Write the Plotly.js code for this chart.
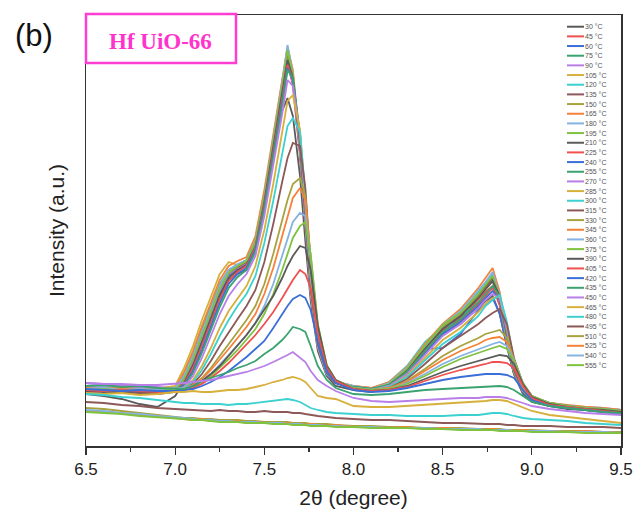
<!DOCTYPE html>
<html><head><meta charset="utf-8">
<script src="https://cdn.plot.ly/plotly-3.0.1.min.js"></script>
<style>html,body{margin:0;padding:0;background:#fff;} #chart{width:635px;height:518px;}</style>
</head><body><div id="chart"></div>
<script>
// 2-theta grid (degree)
const X = [6.5,6.6,6.7,6.8,6.9,7.0,7.05,7.1,7.15,7.2,7.25,7.3,7.35,7.4,7.45,7.5,7.55,7.6,7.63,7.66,7.7,7.73,7.76,7.8,7.85,7.9,8.0,8.1,8.2,8.3,8.4,8.5,8.6,8.7,8.74,8.78,8.82,8.86,8.9,8.95,9.0,9.1,9.2,9.3,9.4,9.5];
const TEMPS = [30,45,60,75,90,105,120,135,150,165,180,195,210,225,240,255,270,285,300,315,330,345,360,375,390,405,420,435,450,465,480,495,510,525,540,555];
const LABELS = TEMPS.map(t => t + ' °C');

// intensities (a.u.)
const I030 = [52,50,47,42,39,50, 64,84,106,128,150,166,172,176,196,240,292,335, 348,330,270,205,145,95,70,60, 56,54,60,72,92,112,122,138, 145,150,132,100,72,52,44, 40,37,36,34,33];
const I045 = [57,58,56,55,54,56, 68,88,110,133,155,171,178,182,200,244,298,352, 384,360,290,220,152,98,71,63, 59,56,61,74,95,116,128,146, 154,160,140,102,72,54,46, 41,39,37,36,34];
const I060 = [60,59,60,58,57,59, 66,82,104,128,152,170,176,180,198,242,296,355, 391,366,294,222,152,99,71,63, 58,56,60,72,97,98,112,136, 142,148,132,100,72,53,45, 41,39,38,36,35];
const I075 = [56,57,55,56,55,57, 72,93,117,140,162,176,181,184,203,247,300,358, 394,368,296,224,154,100,72,64, 59,57,62,76,98,120,134,152, 160,168,146,104,73,55,46, 42,40,38,37,36];
const I090 = [63,62,61,60,59,58, 66,84,108,132,155,172,178,183,201,246,299,354, 388,362,292,221,152,99,72,63, 58,57,61,75,97,119,132,150, 158,165,144,104,74,55,47, 43,40,39,38,36];
const I105 = [58,59,57,56,57,60, 78,100,126,150,172,184,181,184,204,248,302,360, 396,370,298,226,156,101,73,64, 60,58,63,77,99,121,136,154, 162,170,148,106,74,55,47, 42,40,39,37,36];
const I120 = [56,57,58,57,55,57, 70,91,115,139,161,175,181,186,206,251,306,363, 398,372,299,227,156,100,72,64, 59,58,64,80,104,119,124,154, 163,172,150,107,74,55,47, 42,40,38,37,36];
const I135 = [54,55,53,54,52,55, 68,89,112,136,158,173,179,184,204,248,302,358, 394,369,296,224,154,100,72,63, 58,56,61,76,98,118,130,150, 159,168,147,105,73,54,46, 41,39,37,36,34];
const I150 = [57,56,57,55,56,57, 69,90,114,137,160,174,180,185,205,250,304,360, 396,370,297,225,155,100,72,64, 59,57,62,77,99,119,131,149, 157,165,146,106,74,55,46, 42,40,38,37,35];
const I165 = [58,58,57,56,56,58, 74,95,120,144,166,180,185,189,210,256,310,366, 399,376,304,232,160,104,74,65, 60,58,64,79,102,122,137,158, 168,178,154,110,77,57,48, 43,41,39,38,36];
const I180 = [58,60,58,57,56,58, 70,90,114,138,160,176,182,186,205,250,305,362, 401,372,298,225,155,100,72,64, 60,57,63,78,100,121,135,155, 164,174,150,108,75,55,47, 42,40,38,37,35];
const I195 = [55,56,55,54,55,56, 67,87,110,134,157,173,180,185,204,249,303,359, 396,371,299,227,157,102,73,64, 59,57,62,77,100,121,133,152, 161,170,149,107,75,55,47, 42,40,38,37,35];
const I210 = [55,54,55,53,52,54, 63,81,104,128,151,168,176,181,199,244,297,352, 386,368,302,230,158,102,73,63, 58,56,61,75,97,117,130,148, 156,165,150,110,76,56,47, 42,40,38,37,35];
const I225 = [56,57,55,56,54,55, 62,78,100,124,147,165,174,180,198,241,293,347, 381,366,305,234,160,103,74,63, 58,56,60,74,95,114,126,142, 150,158,146,110,77,56,47, 42,40,38,37,35];
const I240 = [57,56,58,56,55,56, 61,75,96,120,143,162,172,178,196,238,289,343, 378,366,308,237,163,104,74,64, 59,57,60,73,93,112,124,140, 148,155,146,112,78,57,47, 42,40,38,37,35];
const I255 = [55,56,54,55,54,55, 60,73,93,116,139,158,169,176,194,236,286,340, 376,368,312,240,165,106,75,64, 59,57,61,74,95,114,127,144, 152,160,150,114,79,57,48, 42,40,38,37,35];
const I270 = [60,61,59,58,57,56, 59,70,88,110,132,150,162,172,190,230,280,332, 366,360,312,242,167,107,75,64, 58,56,60,72,91,110,122,138, 146,152,148,116,80,58,48, 42,40,38,37,35];
const I285 = [58,57,58,56,55,57, 58,66,80,98,118,135,148,160,180,216,262,315, 345,351,316,248,170,108,76,64, 58,56,59,70,88,106,118,134, 142,148,150,120,82,59,48, 42,40,38,37,35];
const I300 = [56,57,55,56,55,56, 58,64,76,92,110,126,140,152,170,203,245,294, 320,328,314,252,174,110,77,65, 58,56,59,69,86,102,114,130, 140,146,151,124,85,60,49, 43,40,38,37,35];
const I315 = [54,55,54,53,54,55, 57,62,72,85,100,114,127,140,156,184,222,264, 288,303,300,258,180,112,77,64, 57,55,58,67,82,98,110,122, 128,133,137,122,88,62,50, 43,40,38,37,35];
const I330 = [57,56,55,56,55,56, 57,61,68,78,90,102,114,126,140,162,192,226, 246,262,268,250,185,115,78,65, 58,56,58,65,77,90,100,108, 112,114,116,108,86,62,50, 43,40,38,37,35];
const I345 = [58,57,58,57,56,57, 58,61,67,76,86,97,108,119,132,152,178,210, 230,248,258,246,188,118,80,66, 58,56,58,64,75,86,95,102, 106,108,109,104,86,63,50, 43,40,38,37,35];
const I360 = [57,58,56,57,56,57, 58,60,65,72,81,91,101,111,123,140,162,190, 208,224,233,230,190,120,80,66, 58,56,57,63,72,82,90,97, 100,102,104,100,86,63,50, 43,40,38,37,35];
const I375 = [56,57,55,56,55,56, 57,59,63,70,78,87,96,106,117,132,152,176, 192,208,220,224,192,122,81,66, 58,56,57,62,70,79,87,93, 96,98,100,97,85,63,50, 43,40,38,37,35];
const I390 = [55,56,54,55,54,55, 57,60,65,72,80,90,100,111,123,136,150,168, 180,190,200,198,176,120,80,66, 57,55,56,60,67,74,80,85, 87,89,91,90,82,62,49, 42,39,37,36,34];
const I405 = [56,55,56,55,54,55, 56,58,62,68,75,83,92,101,111,122,134,148, 157,166,176,172,158,112,78,65, 57,55,56,59,65,71,76,80, 82,84,84,83,78,60,48, 41,39,37,35,33];
const I420 = [57,56,55,56,55,55, 56,57,60,64,69,75,82,89,97,105,118,132, 140,147,151,148,136,104,75,63, 56,54,55,58,62,66,69,71, 72,72,72,71,68,56,46, 40,38,36,34,32];
const I435 = [60,61,59,60,58,57, 57,60,65,68,71,74,78,81,85,92,98,106, 112,119,117,114,100,80,66,58, 52,51,52,54,56,57,58,59, 59,60,60,59,56,50,44, 40,38,36,34,33];
const I450 = [63,62,62,61,61,62, 63,64,65,66,68,70,72,74,77,80,84,88, 91,94,88,84,75,66,60,55, 48,45,44,45,46,47,48,48, 49,49,49,48,46,43,40, 37,35,33,32,31];
const I465 = [53,52,53,51,52,54, 54,55,54,54,55,56,56,57,59,61,64,66, 68,69,67,64,58,50,48,47, 40,39,39,40,41,42,43,44, 45,46,46,45,42,38,35, 31,29,27,25,23];
const I480 = [52,51,49,48,46,44, 43,43,42,42,42,41,42,42,43,44,45,46, 47,46,44,41,38,36,34,33, 32,31,31,30,30,30,31,31, 32,33,33,32,30,28,27, 26,25,23,22,21];
const I495 = [44,43,41,40,38,37, 37,36,36,35,36,35,35,34,34,35,34,34, 34,33,33,32,31,30,29,28, 27,26,26,25,24,23,23,22, 22,22,22,21,21,20,20, 20,19,19,19,18];
const I510 = [38,37,35,33,31,29, 28,28,27,27,26,26,26,25,25,24,24,24, 24,23,23,23,22,22,22,21, 20,20,19,19,18,18,18,17, 17,17,17,16,16,16,16, 15,15,15,14,14];
const I525 = [35,34,33,31,30,28, 27,26,27,25,25,24,25,23,24,23,23,22, 23,22,22,21,22,21,20,21, 19,19,18,19,17,18,17,17, 16,17,16,16,15,16,15, 15,14,15,14,13];
const I540 = [36,35,33,32,30,29, 28,27,26,26,25,25,24,24,24,23,23,23, 22,22,22,21,21,21,20,20, 19,19,18,18,18,17,17,17, 16,16,16,16,15,15,15, 15,14,14,14,13];
const I555 = [34,33,32,30,29,28, 27,26,26,25,24,24,24,23,23,23,22,22, 22,21,21,21,20,20,20,19, 19,18,18,18,17,17,16,16, 16,16,15,15,15,15,14, 14,14,13,13,13];

const SERIES = [I030,I045,I060,I075,I090,I105,I120,I135,I150,I165,I180,I195,I210,I225,I240,I255,I270,I285,I300,I315,I330,I345,I360,I375,I390,I405,I420,I435,I450,I465,I480,I495,I510,I525,I540,I555];

const PALETTE = ['#5a5a5a','#f05050','#3b6fd8','#3aa36f','#b87fe8','#d7b03c','#3cd0d0','#8c5858','#a8a23e','#f5823a','#84b3e3','#7ec23e'];

const traces = SERIES.map((ys,i)=>({
  x: X, y: ys, type:'scatter', mode:'lines', name: LABELS[i],
  line:{color:PALETTE[i%12], width:1.8}, hoverinfo:'skip'
}));

const W=635, H=518, ML=86, MR=14, MT=15, MB=72;
const PW = W-ML-MR, PH = H-MT-MB;
const px2x = p => (p-ML)/PW;
const py2y = p => (H-MB-p)/PH;

const shapes = [], annotations = [];
LABELS.forEach((lab,i)=>{
  const yy = py2y(26.7 + i*9.67);
  shapes.push({type:'line', xref:'paper', yref:'paper', x0:px2x(567), x1:px2x(584), y0:yy, y1:yy,
    line:{color:PALETTE[i%12], width:2}, layer:'above'});
  annotations.push({xref:'paper', yref:'paper', x:px2x(583), y:yy, xanchor:'left', yanchor:'middle',
    text:lab, showarrow:false, font:{size:7, color:'#555', family:'Liberation Sans, Arial, sans-serif'}});
});
shapes.push({type:'rect', xref:'paper', yref:'paper', x0:px2x(86), x1:px2x(236), y0:py2y(63), y1:py2y(14),
  line:{color:'#ff3dd2', width:2.5}, fillcolor:'#ffffff', layer:'above'});
annotations.push({xref:'paper', yref:'paper', x:px2x(160), y:py2y(41), xanchor:'center', yanchor:'middle',
  text:'<b>Hf UiO-66</b>', showarrow:false, font:{family:'Liberation Serif, Times New Roman, serif', size:23, color:'#ff33cc'}});
annotations.push({xref:'paper', yref:'paper', x:px2x(34), y:py2y(35), xanchor:'center', yanchor:'middle',
  text:'(b)', showarrow:false, font:{family:'Liberation Sans, Arial, sans-serif', size:31, color:'#111'}});

const layout = {
  width:W, height:H, margin:{l:ML, r:MR, t:MT, b:MB, pad:0},
  paper_bgcolor:'#fff', plot_bgcolor:'#fff', showlegend:false, hovermode:false,
  font:{family:'Liberation Sans, Arial, sans-serif', color:'#222'},
  xaxis:{range:[6.5,9.5], tick0:6.5, dtick:0.5, tickformat:'.1f', ticks:'outside', ticklen:7, tickwidth:1.3,
    tickcolor:'#333', showline:true, linecolor:'#333', linewidth:1.5, mirror:true, showgrid:false, zeroline:false,
    tickfont:{size:17, color:'#222'},
    minor:{tick0:6.5, dtick:0.25, ticks:'outside', ticklen:4, tickwidth:1.2, tickcolor:'#333', showgrid:false},
    title:{text:'2θ (degree)', font:{size:21, color:'#222'}, standoff:12}},
  yaxis:{range:[0,431], showticklabels:false, ticks:'', showline:true, linecolor:'#333', linewidth:1.5,
    mirror:true, showgrid:false, zeroline:false,
    title:{text:'Intensity (a.u.)', font:{size:21, color:'#222'}, standoff:14}},
  shapes:shapes, annotations:annotations
};
Plotly.newPlot('chart', traces, layout, {staticPlot:true, displayModeBar:false});
</script>
</body></html>
